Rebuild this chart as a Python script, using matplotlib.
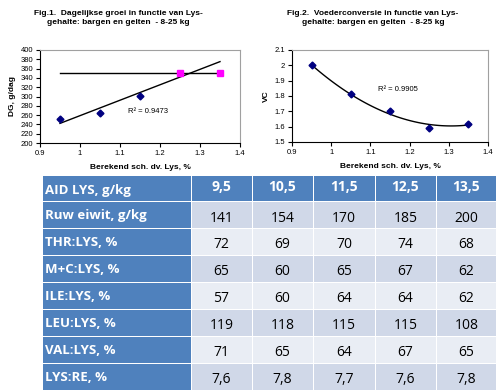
import numpy as np
import matplotlib
matplotlib.use("Agg")
import matplotlib.pyplot as plt
from matplotlib.patches import Rectangle

# Fig.1 data: daily growth vs lysine content
lys = [0.95, 1.05, 1.15, 1.25, 1.35]
dg_low = [252, 264, 302]
dg_high = [350, 350]
# Fig.2 data: feed conversion vs lysine content
vc = [2.00, 1.81, 1.70, 1.59, 1.62]

# Table data
col_headers = ["9,5", "10,5", "11,5", "12,5", "13,5"]
row_labels = ["AID LYS, g/kg", "Ruw eiwit, g/kg", "THR:LYS, %", "M+C:LYS, %",
              "ILE:LYS, %", "LEU:LYS, %", "VAL:LYS, %", "LYS:RE, %"]
ruw_eiwit = ["141", "154", "170", "185", "200"]
thr_lys = ["72", "69", "70", "74", "68"]
mc_lys = ["65", "60", "65", "67", "62"]
ile_lys = ["57", "60", "64", "64", "62"]
leu_lys = ["119", "118", "115", "115", "108"]
val_lys = ["71", "65", "64", "67", "65"]
lys_re = ["7,6", "7,8", "7,7", "7,6", "7,8"]
body = [ruw_eiwit, thr_lys, mc_lys, ile_lys, leu_lys, val_lys, lys_re]

W, H = 496, 390
fig = plt.figure(figsize=(W / 100, H / 100), dpi=100)
fig.patch.set_facecolor("white")

CF = "Liberation Sans"
TF = ["Open Sans", "DejaVu Sans"]
navy = "#000080"


def px_axes(x0, y0, x1, y1):
    return fig.add_axes([x0 / W, 1 - y1 / H, (x1 - x0) / W, (y1 - y0) / H])


def style_chart(ax):
    for s in ["top", "right"]:
        ax.spines[s].set_color("#a0a0a0")
        ax.spines[s].set_linewidth(0.8)
    for s in ["left", "bottom"]:
        ax.spines[s].set_color("black")
        ax.spines[s].set_linewidth(0.8)
    ax.tick_params(direction="out", length=3, width=0.8, labelsize=5.5, pad=2)
    for lab in ax.get_xticklabels() + ax.get_yticklabels():
        lab.set_fontfamily(CF)


def fmt(v):
    return ("%g" % round(v, 2))


# ---- Fig.1 ----
ax1 = px_axes(40, 50, 240, 143)
ax1.set_xlim(0.9, 1.4)
ax1.set_ylim(200, 400)
ax1.set_xticks(np.arange(0.9, 1.41, 0.1))
ax1.set_xticklabels([fmt(v) for v in np.arange(0.9, 1.41, 0.1)])
ax1.set_yticks(np.arange(200, 401, 20))
# horizontal plateau line
ax1.plot([lys[0], lys[-1]], [dg_high[0], dg_high[0]], color="black", lw=1.0)
# linear trend on the rising points, extended forward
fit_x = lys[:4]
fit_y = dg_low + dg_high[:1]
k, b = np.polyfit(fit_x, fit_y, 1)
xs = np.array([lys[0], lys[-1]])
ax1.plot(xs, k * xs + b, color="black", lw=1.0)
ax1.plot(lys[:3], dg_low, linestyle="none", marker="D", ms=3.5, color=navy)
ax1.plot(lys[3:], dg_high, linestyle="none", marker="s", ms=4.5, color="#ff00ff")
ax1.text(1.12, 265, "R² = 0.9473", fontsize=5.5, family=CF)
ax1.set_ylabel("DG, g/dag", fontsize=6, fontweight="bold", family=CF, labelpad=3)
ax1.set_xlabel("Berekend sch. dv. Lys, %", fontsize=6, fontweight="bold", family=CF, labelpad=5)
style_chart(ax1)
fig.text(118 / W, 1 - 18 / H, "Fig.1.  Dagelijkse groei in functie van Lys-\ngehalte: bargen en gelten  - 8-25 kg",
         ha="center", va="center", fontsize=6, fontweight="bold", family=CF, linespacing=1.3)

# ---- Fig.2 ----
ax2 = px_axes(292, 50, 488, 142)
ax2.set_xlim(0.9, 1.4)
ax2.set_ylim(1.5, 2.1)
ax2.set_xticks(np.arange(0.9, 1.41, 0.1))
ax2.set_xticklabels([fmt(v) for v in np.arange(0.9, 1.41, 0.1)])
yt = np.arange(1.5, 2.11, 0.1)
ax2.set_yticks(yt)
ax2.set_yticklabels([fmt(v) for v in yt])
c = np.polyfit(lys, vc, 2)
xx = np.linspace(lys[0], lys[-1], 100)
ax2.plot(xx, np.polyval(c, xx), color="black", lw=1.0)
ax2.plot(lys, vc, linestyle="none", marker="D", ms=3.5, color=navy)
ax2.text(1.12, 1.83, "R² = 0.9905", fontsize=5.5, family=CF)
ax2.set_ylabel("VC", fontsize=6, fontweight="bold", family=CF, labelpad=3)
ax2.set_xlabel("Berekend sch. dv. Lys, %", fontsize=6, fontweight="bold", family=CF, labelpad=5)
style_chart(ax2)
fig.text(373 / W, 1 - 18 / H, "Fig.2.  Voederconversie in functie van Lys-\ngehalte: bargen en gelten  - 8-25 kg",
         ha="center", va="center", fontsize=6, fontweight="bold", family=CF, linespacing=1.3)

# ---- Table ----
tax = fig.add_axes([0, 0, 1, 1])
tax.set_xlim(0, W)
tax.set_ylim(H, 0)
tax.axis("off")

blue = "#4f81bd"
dark_row = "#d0d8e8"
light_row = "#e9edf4"
x_edges = [42, 191, 252, 313, 375, 436, 497]
top = 175
rh = (390 - top) / 8.0
gap = 1.0

for r in range(8):
    y0 = top + r * rh
    for cidx in range(6):
        x0 = x_edges[cidx]
        x1 = x_edges[cidx + 1]
        if r == 0 or cidx == 0:
            fc = blue
        else:
            fc = dark_row if r % 2 == 1 else light_row
        tax.add_patch(Rectangle((x0 + gap / 2, y0 + gap / 2), x1 - x0 - gap, rh - gap,
                                facecolor=fc, edgecolor="none"))
    # row label
    tax.text(x_edges[0] + 3, y0 + rh * 0.52 if r > 0 else y0 + rh * 0.58, row_labels[r],
             ha="left", va="center", fontsize=9.5, fontweight="bold", color="white", family=TF)
    for cidx in range(5):
        xc = (x_edges[cidx + 1] + x_edges[cidx + 2]) / 2
        if r == 0:
            tax.text(xc, y0 + rh * 0.45, col_headers[cidx], ha="center", va="center",
                     fontsize=10, fontweight="bold", color="white", family=TF)
        else:
            tax.text(xc, y0 + rh * 0.6, body[r - 1][cidx], ha="center", va="center",
                     fontsize=10, color="black", family=TF)

fig.savefig("out.png", dpi=100, facecolor="white")
